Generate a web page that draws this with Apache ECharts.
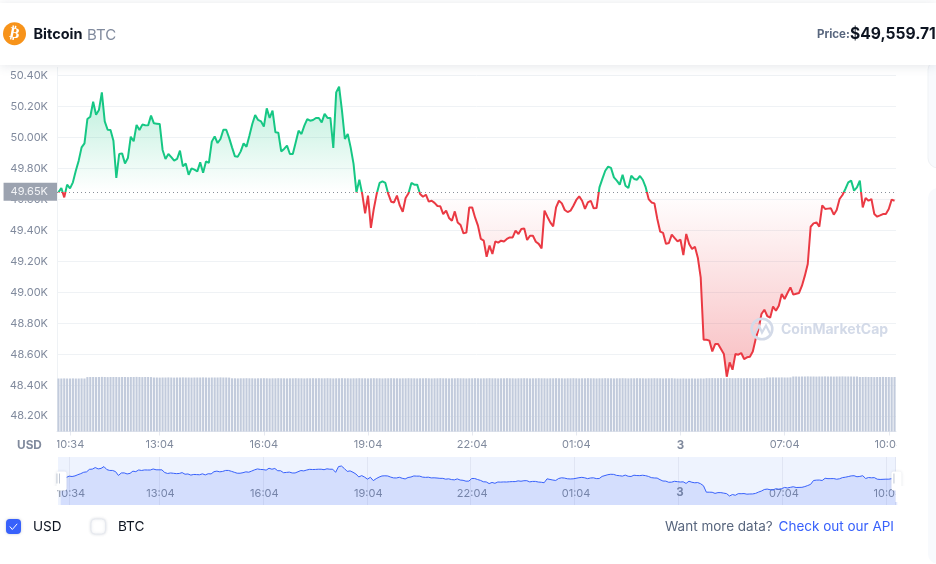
<!DOCTYPE html>
<html><head><meta charset="utf-8">
<style>html,body{margin:0;padding:0;background:#fff}#c{width:936px;height:564px}</style>
<script src="https://cdn.jsdelivr.net/npm/echarts@6/dist/echarts.min.js"></script>
</head><body><div id="c"></div>
<script>
const priceUSD = [
49646,49674,49614,49696,49672,49711,49786,49851,49937,49963,
50120,50135,50232,50148,50179,50292,50105,50051,50049,49980,
49739,49894,49898,49833,49868,50006,49976,50082,50049,50084,
50080,50079,50142,50092,50090,50088,49920,49862,49894,49874,
49851,49862,49916,49814,49833,49760,49801,49793,49782,49840,
49773,49846,49836,49974,50008,49965,49991,50051,50051,49998,
49937,49879,49877,49911,49963,49941,50012,50088,50146,50114,
50105,50071,50189,50127,50174,50034,50032,49911,49927,49948,
49894,49894,49969,50045,50023,50077,50120,50109,50114,50127,
50127,50098,50153,50127,50127,49933,50292,50329,50174,49991,
50023,49937,49830,49646,49728,49636,49510,49625,49416,49539,
49636,49707,49717,49707,49636,49586,49581,49625,49560,49521,
49610,49640,49707,49696,49696,49636,49618,49631,49586,49592,
49578,49558,49556,49506,49528,49481,49463,49523,49452,49435,
49381,49386,49549,49549,49484,49431,49345,49334,49230,49302,
49248,49329,49321,49334,49329,49345,49355,49355,49399,49377,
49410,49413,49338,49366,49366,49327,49313,49284,49528,49489,
49452,49426,49549,49592,49575,49532,49519,49528,49560,49597,
49620,49592,49539,49581,49592,49543,49545,49678,49733,49786,
49812,49804,49743,49722,49696,49760,49689,49674,49754,49733,
49728,49752,49726,49678,49603,49581,49575,49474,49392,49384,
49313,49319,49373,49351,49329,49340,49241,49377,49313,49280,
49295,49224,49095,48694,48694,48688,48618,48666,48666,48634,
48602,48455,48547,48500,48602,48597,48608,48569,48580,48584,
48618,48699,48763,48860,48888,48847,48836,48909,48881,48914,
48989,48957,48996,49032,48985,48991,48996,49043,49108,49183,
49424,49446,49452,49424,49562,49539,49541,49543,49502,49532,
49603,49629,49668,49711,49722,49657,49678,49722,49549,49610,
49592,49603,49506,49489,49497,49506,49506,49539,49599,49592
];
const volumeB = [
53.0,53.0,53.1,53.0,53.0,53.1,53.0,53.0,53.1,53.0,
54.4,54.5,54.5,54.4,54.5,54.6,54.5,54.4,54.5,54.5,
54.5,54.4,54.5,54.5,54.4,54.5,54.5,54.6,54.5,54.4,
54.5,54.5,54.4,54.0,54.0,53.9,54.0,54.0,54.1,54.0,
53.9,54.0,54.0,54.1,54.0,54.0,53.9,54.0,54.0,54.0,
54.1,54.0,53.9,54.0,54.0,54.0,54.1,54.0,54.0,53.9,
53.2,53.2,53.1,53.2,53.2,53.3,53.2,53.2,53.1,53.2,
53.2,53.3,53.2,53.1,53.2,53.2,53.3,53.2,53.2,53.1,
53.2,53.2,53.3,53.2,53.2,53.1,53.2,53.2,53.3,53.2,
53.3,53.2,53.2,53.3,53.2,53.1,53.2,53.2,53.3,53.2,
53.2,53.1,53.2,53.2,53.3,53.2,53.2,53.1,53.2,53.3,
53.2,53.2,53.1,53.2,53.2,53.3,53.2,53.2,53.1,53.2,
53.2,53.3,53.2,53.2,53.1,53.2,53.2,53.3,53.2,53.1,
53.2,53.2,53.3,53.2,53.2,53.1,53.2,53.2,53.3,53.2,
53.2,53.1,53.2,53.2,53.3,53.2,53.1,53.2,53.2,53.3,
53.2,53.2,53.1,53.2,53.2,53.3,53.2,53.2,53.1,53.2,
53.2,53.3,53.2,53.1,53.2,53.2,53.3,53.2,53.2,53.1,
53.2,53.2,53.3,53.2,53.2,53.1,53.2,53.2,53.3,53.2,
53.1,53.2,53.2,53.3,53.2,53.2,53.1,53.2,53.2,53.3,
53.2,53.2,53.1,53.2,53.2,53.3,53.2,53.1,53.2,53.2,
53.3,53.2,53.2,53.1,53.2,53.2,53.3,53.2,53.2,53.1,
53.2,53.2,53.3,53.1,53.0,53.0,53.1,53.0,53.0,53.1,
53.0,53.0,53.1,53.0,53.3,53.3,53.4,53.3,53.3,53.4,
53.3,53.3,53.4,53.3,53.3,53.4,53.3,53.3,53.4,53.3,
53.3,53.3,53.4,53.3,53.4,54.0,54.0,54.1,54.0,54.0,
54.1,54.0,54.0,54.1,55.0,55.0,54.9,55.0,55.0,55.1,
55.0,55.0,54.9,55.0,55.0,55.1,55.0,55.0,54.9,55.0,
55.0,55.1,55.0,55.0,55.0,54.9,55.0,54.5,54.5,54.6,
54.5,54.5,54.4,54.5,54.5,54.6,54.5,54.5,54.4,54.5
];
const tickIndexes = [4,35,71,107,143,179,215,251,287];
const tickLabels = ['10:34','13:04','16:04','19:04','22:04','01:04','3','07:04','10:04'];
const baselinePrice = 49650;
const baselineLabel = '49.65K';
const yMin = 48000, yMax = 50400, yStep = 200;
const volumeAxisMax = 364;

const GREEN='#16c784', RED='#ea3943', GREY='#808a9d', FONT='Inter';
const categories = priceUSD.map((_,i)=>{
  const at = tickIndexes.indexOf(i);
  if(at>=0) return tickLabels[at];
  const m = 10*60+9+i*5;
  return String(Math.floor(m/60)%24).padStart(2,'0')+':'+String(m%60).padStart(2,'0');
});
const isTick = i => tickIndexes.indexOf(i)>=0;
const pMax=Math.max(...priceUSD), pMin=Math.min(...priceUSD);
const baseOff=(pMax-baselinePrice)/(pMax-pMin);
const labelFmt = v => v==='3' ? '{b|3}' : v;
const xLabelStyle = {color:GREY,fontSize:11,fontFamily:FONT,interval:(i)=>isTick(i),formatter:labelFmt,
  rich:{b:{fontWeight:'bold',fontSize:11.5,color:GREY,fontFamily:FONT}}};
const txt=(text,x,y,font,fill,align,extra)=>Object.assign({type:'text',silent:true,z:50,style:{text,x,y,font,fill,textAlign:align||'left',textVerticalAlign:'middle'}},extra||{});
const rect=(x,y,w,h,fill,r,extra)=>Object.assign({type:'rect',silent:true,z:40,shape:{x,y,width:w,height:h,r:r||0},style:{fill}},extra||{});

const graphics = [
  rect(928,60,20,108,'#f8fafd',12,{z:1,style:{fill:'#f8fafd',stroke:'#eff2f5',lineWidth:1}}),
  rect(928,188,20,376,'#f8fafd',12,{z:1}),
  rect(0,3,936,62,'#fff',0,{style:{fill:'#fff',shadowBlur:10,shadowColor:'rgba(88,102,126,0.16)',shadowOffsetY:1}}),
  {type:'circle',silent:true,z:50,shape:{cx:14.5,cy:33.7,r:11.5},style:{fill:'#f7931a'}},
  txt('₿',0,0,'bold 15px "DejaVu Sans"','#fff','center',{x:14.5,y:34,rotation:-0.2}),
  txt('Bitcoin',33.5,35,'bold 14.5px Inter','#0d1421'),
  txt('BTC',87,35,'15px Inter',GREY),
  txt('Price:',817,34.5,'bold 11.5px Inter','#58667e'),
  txt('$49,559.71',850,34.5,'bold 15.6px Inter','#0d1421'),
  txt('USD',17,445,'bold 11.8px Inter',GREY),
  rect(896.5,437,30,16,'#fff',0),
  rect(895.5,486,30,16,'#fff',0),
  rect(48,486,9,16,'#fff',0),
  rect(48,437,9,16,'#fff',0,{z:3}),
  rect(56.5,473.5,0.9,10,'#b9c1cf',0,{z:60}),rect(59,473.5,0.9,10,'#b9c1cf',0,{z:60}),
  rect(893.5,473.5,0.9,10,'#b9c1cf',0,{z:60}),
  rect(6,519,15,15,'#3861fb',4,{style:{fill:'#3861fb',shadowBlur:3,shadowColor:'rgba(88,102,126,0.35)'}}),
  {type:'polyline',silent:true,z:50,shape:{points:[[9.8,526.5],[12.3,529.5],[17.2,523.8]]},style:{stroke:'#fff',lineWidth:1,fill:null}},
  txt('USD',33,527,'13.6px Inter','#0d1421'),
  rect(91,519,14.5,15,'#fff',4,{style:{fill:'#fff',stroke:'#e6e9ef',lineWidth:1,shadowBlur:3,shadowColor:'rgba(88,102,126,0.2)'}}),
  txt('BTC',118,527,'13.6px Inter','#0d1421'),
  txt('Want more data? ',665,526.5,'13.5px Inter','#58667e'),
  txt('Check out our API',894,526.5,'13.5px Inter','#3861fb','right'),
  {type:'circle',silent:true,z:30,shape:{cx:762,cy:329,r:10.3},style:{fill:null,stroke:'#d3dae8',lineWidth:2.6}},
  {type:'polyline',silent:true,z:30,shape:{points:[[755,333.5],[759,325.5],[762,332.5],[766,325.5],[770,333.5]]},style:{fill:null,stroke:'#d3dae8',lineWidth:2.2}},
  txt('CoinMarketCap',781,330,'bold 14px Inter','#d3dae8','left',{z:30})
];

const chart = echarts.init(document.getElementById('c'),null,{renderer:'canvas'});
chart.setOption({
  animation:false,
  backgroundColor:'#fff',
  textStyle:{fontFamily:FONT},
  graphic:graphics,
  grid:[
    {left:57,top:75.7,width:839,height:371.4,containLabel:false},
    {left:57,top:67.5,width:839,height:364},
    {left:58,top:457,width:837,height:48,show:true,backgroundColor:'#eef3fe',borderWidth:0}
  ],
  xAxis:[
    {type:'category',gridIndex:0,data:categories,show:false},
    {type:'category',gridIndex:1,data:categories,
      axisLine:{lineStyle:{color:'#e6e9f0',width:1}},
      axisTick:{show:true,interval:(i)=>isTick(i),alignWithLabel:true,length:4,lineStyle:{color:'#e6e9f0'}},
      axisLabel:Object.assign({margin:8,hideOverlap:false,showMinLabel:true,showMaxLabel:true},xLabelStyle),
      splitLine:{show:false}},
    {type:'category',gridIndex:2,data:categories,z:2,
      axisLine:{show:false},axisTick:{show:false},
      axisLabel:Object.assign({inside:true,margin:6,hideOverlap:false},xLabelStyle),
      splitLine:{show:true,interval:(i)=>isTick(i),lineStyle:{color:'#e0e5f3',width:1}}}
  ],
  yAxis:[
    {type:'value',gridIndex:0,min:yMin,max:yMax,interval:yStep,scale:false,
      axisLine:{show:false},axisTick:{show:false},
      axisLabel:{color:GREY,fontSize:11,fontFamily:FONT,margin:9,showMinLabel:false,
        formatter:v=>(v/1000).toFixed(2)+'K'},
      splitLine:{show:true,showMinLine:false,lineStyle:{color:'#eff2f5',width:1}}},
    {type:'value',gridIndex:1,min:0,max:volumeAxisMax,show:true,
      axisLine:{show:true,lineStyle:{color:'#eff2f5'}},axisTick:{show:false},axisLabel:{show:false},splitLine:{show:false}},
    {type:'value',gridIndex:2,show:false,min:0,max:1}
  ],
  visualMap:[{type:'piecewise',show:false,seriesIndex:0,dimension:1,
    pieces:[{gt:baselinePrice,lte:yMax+1000,color:GREEN},{gte:yMin-1000,lte:baselinePrice,color:RED}]}],
  dataZoom:[{type:'slider',xAxisIndex:[0,1],start:0,end:100,left:58,top:457,width:837,height:48,z:4,
    backgroundColor:'rgba(0,0,0,0)',borderColor:'rgba(0,0,0,0)',fillerColor:'rgba(0,0,0,0)',
    showDetail:false,brushSelect:false,moveHandleSize:0,realtime:true,
    handleIcon:'path://M2,0H8A2,2,0,0,1,10,2V17A2,2,0,0,1,8,19H2A2,2,0,0,1,0,17V2A2,2,0,0,1,2,0Z',
    handleSize:'40%',handleStyle:{color:'#fff',borderColor:'rgba(0,0,0,0)',borderWidth:0,shadowBlur:3,shadowColor:'rgba(88,102,126,0.2)'},
    dataBackground:{lineStyle:{color:'#3861fb',width:1,opacity:1},areaStyle:{color:'rgba(56,97,251,0.14)',opacity:1}},
    selectedDataBackground:{lineStyle:{color:'#3861fb',width:1,opacity:1},areaStyle:{color:'rgba(56,97,251,0.14)',opacity:1}}
  }],
  series:[
    {type:'line',name:'Price',xAxisIndex:0,yAxisIndex:0,data:priceUSD,z:5,showSymbol:false,symbol:'none',
      lineStyle:{width:2},
      areaStyle:{origin:baselinePrice,opacity:1,color:{type:'linear',x:0,y:0,x2:0,y2:1,colorStops:[
        {offset:0,color:'rgba(22,199,132,0.30)'},
        {offset:baseOff,color:'rgba(22,199,132,0)'},
        {offset:baseOff,color:'rgba(234,57,67,0)'},
        {offset:1,color:'rgba(234,57,67,0.33)'}]}},
      markLine:{silent:true,symbol:'none',animation:false,
        lineStyle:{color:'#8a8f99',type:[1,3],width:1},
        label:{show:true,position:'start',formatter:baselineLabel,distance:0,color:'#f2f3f6',fontSize:11,fontFamily:FONT,
          backgroundColor:'#9ca3b0',padding:[3,9,4,7],align:'right'},
        data:[{yAxis:baselinePrice}]}},
    {type:'bar',name:'Volume',xAxisIndex:1,yAxisIndex:1,data:volumeB,z:2,barWidth:2.1,itemStyle:{color:'#c2cbdc'},barCategoryGap:'30%'}
  ]
});
</script></body></html>
